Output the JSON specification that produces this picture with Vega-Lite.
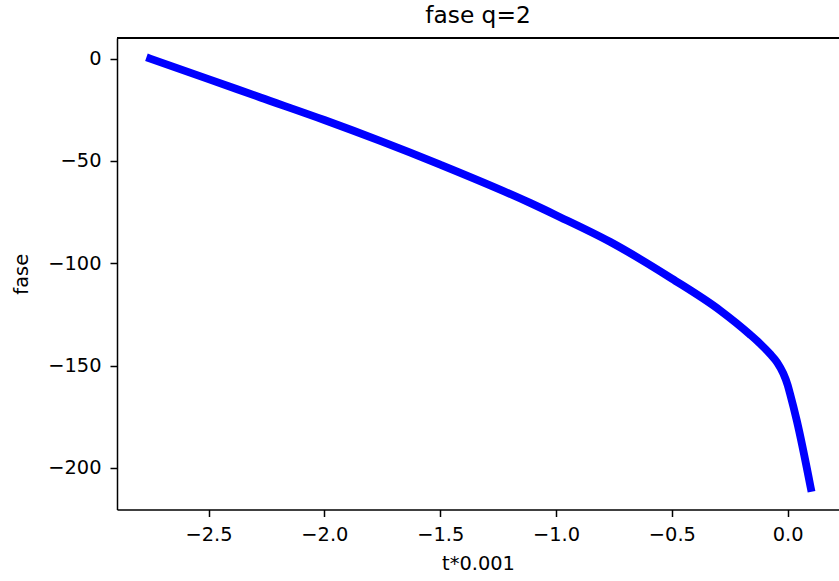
{
  "$schema": "https://vega.github.io/schema/vega-lite/v6.json",
  "width": 722,
  "height": 471.5,
  "autosize": {"type": "none"},
  "padding": {"left": 117, "top": 38, "right": 0, "bottom": 71.5},
  "background": "white",
  "config": {"view": {"stroke": null}, "font": "DejaVu Sans"},
  "title": {"text": "fase q=2", "fontSize": 23.3, "font": "DejaVu Sans", "fontWeight": "normal", "color": "#000", "anchor": "middle", "baseline": "alphabetic", "offset": -9},
  "data": {"values": [
    {"t": -2.752, "fase": 0},
    {"t": -2.5, "fase": -10.0},
    {"t": -2.276, "fase": -19.0},
    {"t": -2.0, "fase": -30.0},
    {"t": -1.759, "fase": -40.2},
    {"t": -1.5, "fase": -51.8},
    {"t": -1.112, "fase": -70.5},
    {"t": -1.0, "fase": -76.5},
    {"t": -0.767, "fase": -89.5},
    {"t": -0.5, "fase": -107.5},
    {"t": -0.292, "fase": -123.0},
    {"t": -0.163, "fase": -134.8},
    {"t": -0.12, "fase": -139.2},
    {"t": -0.076, "fase": -144.3},
    {"t": -0.045, "fase": -148.5},
    {"t": -0.019, "fase": -153.8},
    {"t": 0.0, "fase": -159.5},
    {"t": 0.0099, "fase": -163.6},
    {"t": 0.039, "fase": -176.7},
    {"t": 0.0997, "fase": -209.8}
  ]},
  "layer": [
    {
      "mark": {"type": "line", "color": "#0000ff", "strokeWidth": 7.8, "strokeCap": "square", "strokeJoin": "round", "interpolate": "monotone"},
      "encoding": {
        "x": {"field": "t", "type": "quantitative",
          "scale": {"domain": [-2.895, 0.2215], "nice": false, "zero": false},
          "axis": {"title": "t*0.001", "values": [-2.5, -2, -1.5, -1, -0.5, 0], "format": ".1f", "grid": false,
            "labelFont": "DejaVu Sans", "titleFont": "DejaVu Sans", "labelFontSize": 19.4, "titleFontSize": 19.4,
            "labelColor": "#000", "titleColor": "#000", "titleFontWeight": "normal",
            "tickSize": 7, "tickWidth": 1.5, "tickColor": "#000", "domainColor": "#000", "domainWidth": 1.5,
            "labelPadding": 8.5, "titlePadding": 11, "labelFlush": false, "labelOverlap": false}},
        "y": {"field": "fase", "type": "quantitative",
          "scale": {"domain": [-220.3, 10.06], "nice": false, "zero": false},
          "axis": {"title": "fase", "values": [0, -50, -100, -150, -200], "format": "d", "grid": false,
            "labelFont": "DejaVu Sans", "titleFont": "DejaVu Sans", "labelFontSize": 19.4, "titleFontSize": 19.4,
            "labelColor": "#000", "titleColor": "#000", "titleFontWeight": "normal",
            "tickSize": 7, "tickWidth": 1.5, "tickColor": "#000", "domainColor": "#000", "domainWidth": 1.5,
            "labelPadding": 9, "titlePadding": 16, "labelFlush": false, "labelOverlap": false}}
      }
    },
    {
      "mark": {"type": "rule", "color": "#000", "strokeWidth": 1.5},
      "encoding": {"y": {"datum": 10.06}}
    }
  ]
}
